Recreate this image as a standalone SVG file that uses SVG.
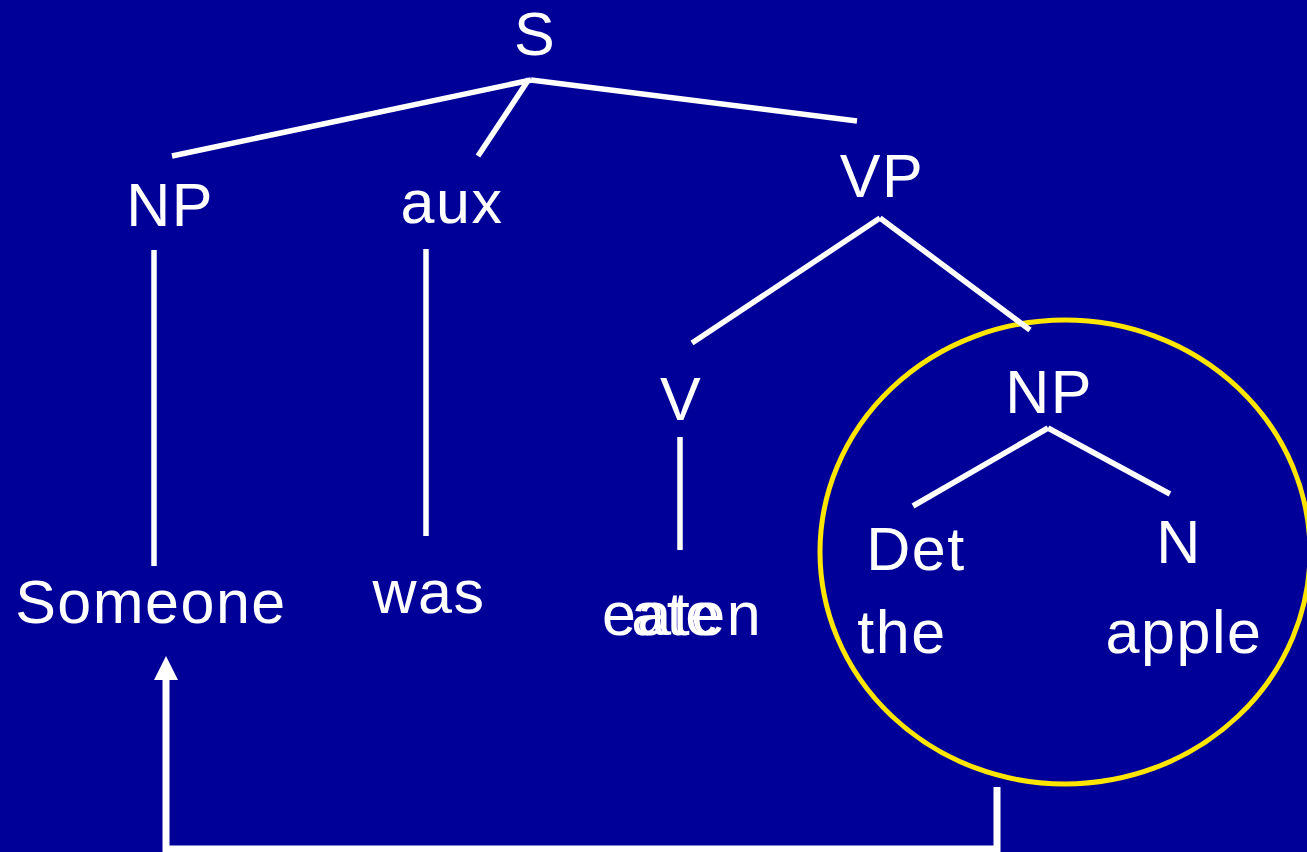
<svg xmlns="http://www.w3.org/2000/svg" width="1307" height="852" viewBox="0 0 1307 852">
  <style>
    .lbl { font-family: "Liberation Sans", Arial, sans-serif; font-size: 61px; letter-spacing: 1.5px; fill: #ffffff; text-anchor: middle; }
    .edge { stroke: #ffffff; stroke-width: 5.5; fill: none; }
    .move { stroke: #ffffff; stroke-width: 7; fill: none; }
  </style>
  <defs>
    <marker id="arrow" markerWidth="24" markerHeight="24" refX="0" refY="12" orient="auto" markerUnits="userSpaceOnUse" viewBox="0 0 24 24">
      <path d="M0,0 L24,12 L0,24 Z" fill="#ffffff"/>
    </marker>
  </defs>
  <rect width="1307" height="852" fill="#000099"/>

  <!-- highlighted object NP -->
  <ellipse id="focus" cx="1065" cy="552" rx="245" ry="232" fill="none" stroke="#ffe600" stroke-width="5"/>

  <g id="connectors">
    <line class="edge" x1="172" y1="156" x2="531" y2="80"/>
    <line class="edge" x1="478" y1="156" x2="529" y2="79"/>
    <line class="edge" x1="531" y1="80" x2="857" y2="121"/>
    <line class="edge" x1="154" y1="250" x2="154" y2="566"/>
    <line class="edge" x1="426" y1="249" x2="426" y2="536"/>
    <line class="edge" x1="692" y1="343" x2="880" y2="218"/>
    <line class="edge" x1="880" y1="218" x2="1030" y2="330"/>
    <line class="edge" x1="680" y1="437" x2="680" y2="550"/>
    <line class="edge" x1="913" y1="506" x2="1048" y2="428"/>
    <line class="edge" x1="1048" y1="428" x2="1170" y2="494"/>
    <!-- movement path: object raised to subject position -->
    <polyline class="move" points="997,787 997,849 166,849 166,680" marker-end="url(#arrow)"/>
  </g>

  <g id="node-S"><text class="lbl" x="535" y="55">S</text></g>
  <g id="node-NP-subj"><text class="lbl" x="170" y="226">NP</text></g>
  <g id="node-aux"><text class="lbl" x="452" y="223">aux</text></g>
  <g id="node-VP"><text class="lbl" x="882" y="197">VP</text></g>
  <g id="node-V"><text class="lbl" x="681" y="420">V</text></g>
  <g id="node-NP-obj"><text class="lbl" x="1049" y="413">NP</text></g>
  <g id="node-Det"><text class="lbl" x="916" y="570">Det</text></g>
  <g id="node-N"><text class="lbl" x="1179" y="563">N</text></g>
  <g id="word-someone"><text class="lbl" x="151" y="623">Someone</text></g>
  <g id="word-was"><text class="lbl" x="429" y="613">was</text></g>
  <g id="word-eaten">
    <text class="lbl" x="682" y="635">eaten</text>
    <text class="lbl" x="676" y="635">ate</text>
  </g>
  <g id="word-the"><text class="lbl" x="902" y="653">the</text></g>
  <g id="word-apple"><text class="lbl" x="1184" y="653">apple</text></g>
</svg>
